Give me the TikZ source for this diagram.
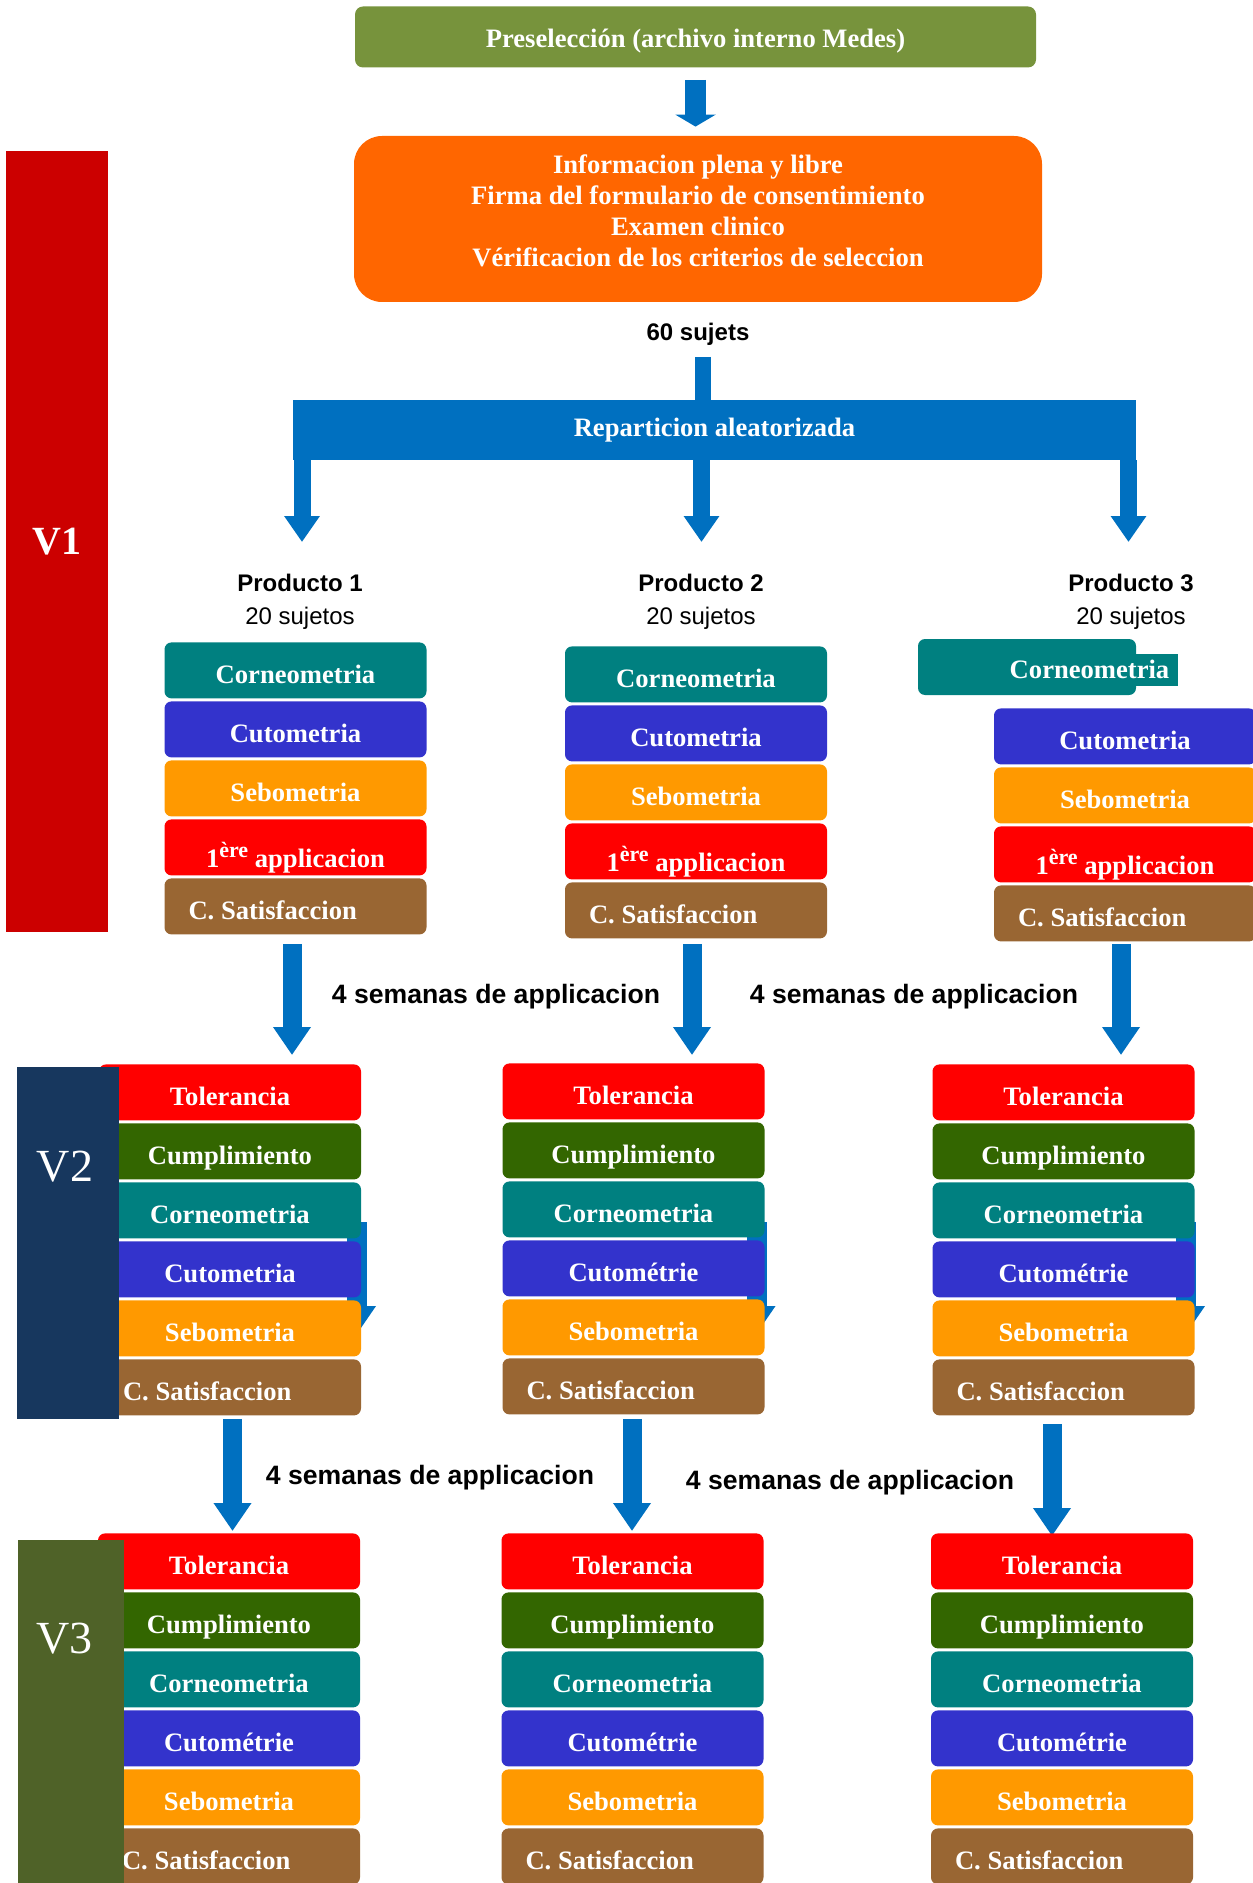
\documentclass[tikz,border=0pt]{standalone}
\usepackage{fontspec}
\setmainfont{Liberation Serif}
\setsansfont{Liberation Sans}
\usetikzlibrary{arrows.meta,calc,positioning}

\definecolor{presgreen}{RGB}{119,147,60}
\definecolor{consorange}{RGB}{255,102,0}
\definecolor{flowblue}{RGB}{0,112,192}
\definecolor{visitred}{RGB}{204,0,0}
\definecolor{visitnavy}{RGB}{23,55,94}
\definecolor{visitolive}{RGB}{79,98,40}
\definecolor{corneo}{RGB}{0,128,128}
\definecolor{cuto}{RGB}{51,51,204}
\definecolor{sebo}{RGB}{255,153,0}
\definecolor{appl}{RGB}{255,0,0}
\definecolor{satis}{RGB}{153,102,51}
\definecolor{toler}{RGB}{255,0,0}
\definecolor{cumpl}{RGB}{51,102,0}

\newcommand{\satleft}{\makebox[107pt][l]{C. Satisfaccion}}
\newcommand{\primera}{\raisebox{-3.5pt}{1\raisebox{5pt}{\fontsize{11}{11}\selectfont ère} applicacion}}

\tikzset{
  stepbox/.style={rounded corners=3.5pt,minimum width=131pt,minimum height=28pt,inner sep=0pt,text height=16pt,text depth=2.5pt,text=white,font=\bfseries\fontsize{13.3}{15}\selectfont},
  bigbox/.style={inner sep=0pt,text=white,align=center,font=\bfseries\fontsize{13.3}{15.5}\selectfont},
  visitbar/.style={inner sep=0pt,text=white},
  visitlabel/.style={text=white,font=\fontsize{23}{26}\selectfont},
  plainlabel/.style={align=center,font=\sffamily\fontsize{12}{16.5}\selectfont},
  weeklabel/.style={font=\sffamily\bfseries\fontsize{13.3}{16}\selectfont},
  toparrow/.style={draw=flowblue,line width=10.5pt,-{Triangle[width=20pt,length=6pt]}},
  splitarrow/.style={draw=flowblue,line width=8.5pt,-{Triangle[width=17pt,length=13pt]}},
  bigarrow/.style={draw=flowblue,line width=9.5pt,-{Triangle[width=18pt,length=14pt]}},
  hidarrow/.style={draw=flowblue,line width=10pt,-{Triangle[width=18pt,length=14pt]}}
}

\begin{document}
\begin{tikzpicture}[x=0.5pt,y=-0.5pt]
\useasboundingbox (0,0) rectangle (1252,1883);

% inclusion
\node [bigbox,fill=presgreen,rounded corners=4pt,minimum width=340.5pt,minimum height=30.5pt,text height=14pt,text depth=3pt] (presel) at (695.5,37) {Preselección (archivo interno Medes)};
\node [bigbox,fill=consorange,rounded corners=14pt,minimum width=344pt,minimum height=83pt] (consent) at (698,219) {};
\node [bigbox] (consenttext) at ($(consent.center)+(0,-8)$) {Informacion plena y libre\\Firma del formulario de consentimiento\\Examen clinico\\Vérificacion de los criterios de seleccion};
\draw [toparrow,shorten <=6pt,shorten >=4.5pt] (presel.south) -- (presel.south |- consent.north);
\node [plainlabel,font=\sffamily\bfseries\fontsize{12}{14.5}\selectfont,below=7pt of consent] (sujets) {60 sujets};
\node [bigbox,fill=flowblue,minimum width=421.5pt,minimum height=30pt] (split) at (714.5,430) {Reparticion aleatorizada};
\draw [draw=flowblue,line width=8pt,shorten <=2pt] ([xshift=2.5pt]sujets.south) -- ([xshift=2.5pt]sujets.south |- split.north);

% randomisation
\coordinate (tipone) at (302,542);
\coordinate (tiptwo) at (701.5,542);
\coordinate (tipthree) at (1128.5,542);
\draw [splitarrow] (split.south -| tipone) -- (tipone);
\draw [splitarrow] (split.south -| tiptwo) -- (tiptwo);
\draw [splitarrow] (split.south -| tipthree) -- (tipthree);
\node [plainlabel] (prodone) at (300,602) {\textbf{Producto 1}\\20 sujetos};
\node [plainlabel] (prodtwo) at (701,602) {\textbf{Producto 2}\\20 sujetos};
\node [plainlabel] (prodthree) at (1131,602) {\textbf{Producto 3}\\20 sujetos};

% V1
\foreach \cx/\ty/\c in {295.5/642/1,696/646/2} {
  \foreach \txt/\fc [count=\i] in {Corneometria/corneo,Cutometria/cuto,Sebometria/sebo,\primera/appl,\satleft/satis}
    \node [stepbox,fill=\fc,anchor=north] (vone\c\i) at (\cx,{\ty+(\i-1)*59}) {\txt};
}
\node [stepbox,fill=corneo,minimum width=109pt] (vone31) at (1027,667) {};
\node [stepbox,fill=corneo,rounded corners=0pt,inner xsep=4.5pt,minimum width=0pt,minimum height=16pt,text height=10pt,text depth=2pt] (vone31text) at (1089.5,670) {Corneometria};
\foreach \txt/\fc [count=\i from 2] in {Cutometria/cuto,Sebometria/sebo,\primera/appl,\satleft/satis}
  \node [stepbox,fill=\fc,anchor=north] (vone3\i) at (1125,{708+(\i-2)*59}) {\txt};
\node [visitbar,fill=visitred,minimum width=51pt,minimum height=390.5pt,font=\bfseries\fontsize{20}{24}\selectfont] (vonebar) at (57,541.5) {V1};

% V1 -> V2
\coordinate (vtwotip1) at (292,1055);
\coordinate (vtwotip2) at (692,1055);
\coordinate (vtwotip3) at (1121,1055);
\draw [bigarrow,shorten <=4.5pt] (vone15.south -| vtwotip1) -- (vtwotip1);
\draw [bigarrow,shorten <=2.5pt] (vone25.south -| vtwotip2) -- (vtwotip2);
\draw [bigarrow,shorten <=1pt] (vone35.south -| vtwotip3) -- (vtwotip3);
\node [weeklabel] (weekone) at (496,997) {4 semanas de applicacion};
\node [weeklabel] (weektwo) at (914,997) {4 semanas de applicacion};

% V2
\foreach \hx [count=\c] in {357,756.5,1186} {
  \coordinate (hidtop\c) at (\hx,1222);
  \coordinate (hidtip\c) at (\hx,1334);
  \draw [hidarrow] (hidtop\c) -- (hidtip\c);
}
\foreach \cx/\ty/\c/\cutotxt in {230/1064/1/Cutometria,633.5/1063/2/Cutométrie,1063.5/1064/3/Cutométrie} {
  \foreach \txt/\fc [count=\i] in {Tolerancia/toler,Cumplimiento/cumpl,Corneometria/corneo,\cutotxt/cuto,Sebometria/sebo,\satleft/satis}
    \node [stepbox,fill=\fc,anchor=north] (vtwo\c\i) at (\cx,{\ty+(\i-1)*59}) {\txt};
}
\node [visitbar,fill=visitnavy,minimum width=51pt,minimum height=176pt] (vtwobar) at (68,1243) {};
\node [visitlabel] (vtwolabel) at ($(vtwobar.north)+(-3,100)$) {V2};

% V2 -> V3
\coordinate (vthreetip1) at (232.5,1531);
\coordinate (vthreetip2) at (632,1531);
\coordinate (vthreetip3) at (1052,1536);
\draw [bigarrow,shorten <=1.5pt] (vtwo16.south -| vthreetip1) -- (vthreetip1);
\draw [bigarrow,shorten <=2pt] (vtwo26.south -| vthreetip2) -- (vthreetip2);
\draw [bigarrow,shorten <=4pt] (vtwo36.south -| vthreetip3) -- (vthreetip3);
\node [weeklabel] (weekthree) at (430,1478) {4 semanas de applicacion};
\node [weeklabel] (weekfour) at (850,1483) {4 semanas de applicacion};

% V3
\foreach \cx/\c in {229/1,632.5/2,1062/3} {
  \foreach \txt/\fc [count=\i] in {Tolerancia/toler,Cumplimiento/cumpl,Corneometria/corneo,Cutométrie/cuto,Sebometria/sebo,\satleft/satis}
    \node [stepbox,fill=\fc,anchor=north] (vthree\c\i) at (\cx,{1533+(\i-1)*59}) {\txt};
}
\node [visitbar,fill=visitolive,minimum width=53pt,minimum height=175pt] (vthreebar) at (71,1715) {};
\node [visitlabel] (vthreelabel) at ($(vthreebar.north)+(-6.5,99)$) {V3};
\end{tikzpicture}
\end{document}
